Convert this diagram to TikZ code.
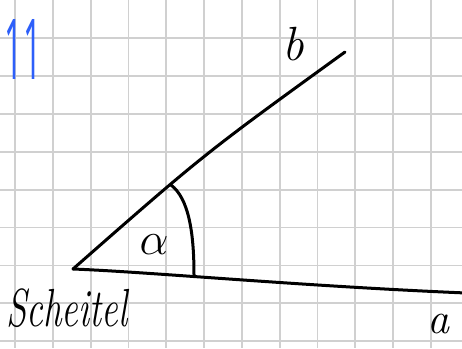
\RequirePackage{fix-cm}
\documentclass[tikz,border=0pt]{standalone}
\usepackage{graphicx}
\usepackage{fontspec}
\newfontfamily\numfont{Open Sans}
\definecolor{gridc}{RGB}{208,208,208}
\definecolor{blueink}{RGB}{45,95,250}
\begin{document}
\begin{tikzpicture}[x=1pt,y=-1pt,
  gridline/.style={draw=gridc,line width=1.8pt},
  ink/.style={draw=black,line width=3pt,line cap=round,line join=round},
  lab/.style={inner sep=0pt,font=\itshape}]
\fill[white] (0,0) rectangle (462,348);
\useasboundingbox (0,0) rectangle (462,348);
\foreach \k in {0,...,11} \draw[gridline] ({15+37.8*\k},0) -- ({15+37.8*\k},348);
\foreach \k in {0,...,8} \draw[gridline] (0,{38.3+37.85*\k}) -- (462,{38.3+37.85*\k});
\coordinate (V) at (73,269);
\coordinate (B) at (345,52);
\coordinate (A) at (466,293);
\coordinate (P) at (171,185);
\coordinate (Q) at (194,275);
\draw[ink] (V) .. controls (204,154) .. (B);
\draw[ink] (V) .. controls (150,272) and (300,286) .. (A);
\draw[ink] (P) .. controls (188,198) and (194,230) .. (Q);
\node[lab,anchor=base,font=\itshape\fontsize{48}{48}\selectfont] (lb) at (293,60) {b};
\node[lab,anchor=base,font=\itshape\fontsize{44}{44}\selectfont] (la) at (438,333) {a};
\node[lab,anchor=base,font=\fontsize{46}{46}\selectfont] (lal) at (154,254) {$\alpha$};
\node[lab,anchor=base west] (ls) at (6,326) {\scalebox{1}[1.45]{\fontsize{37}{37}\selectfont Scheitel}};
\node[inner sep=0pt,text=blueink] (num) at (23,49) {\resizebox{37pt}{60pt}{\numfont 11}};
\end{tikzpicture}
\end{document}
